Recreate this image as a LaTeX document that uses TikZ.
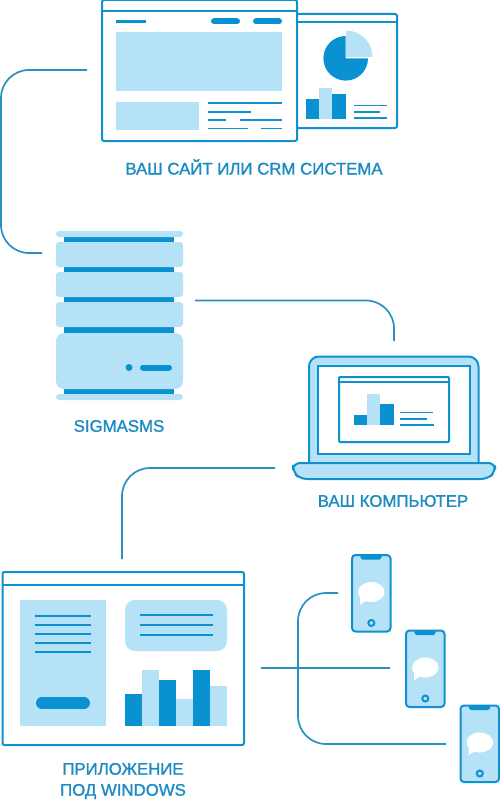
\documentclass[tikz,border=0pt]{standalone}
\usepackage{fontspec}
\setmainfont{Liberation Sans}[FakeBold=1.3]
\definecolor{dk}{HTML}{0A91D1}
\definecolor{lt}{HTML}{B5E2F7}
\definecolor{ln}{HTML}{2A90C2}
\definecolor{tx}{HTML}{1B8BC2}
\tikzset{
  wire/.style={draw=ln,line width=1.7pt,rounded corners=28pt},
  frame/.style={draw=dk!85!ln,line width=2pt,fill=white,rounded corners=2pt},
  thin/.style={draw=dk!85!ln,line width=2pt},
  rule/.style={draw=dk!90!ln,line width=1.8pt},
  unit/.style={fill=lt,rounded corners=3pt},
  caption/.style={text=tx,font=\fontsize{16.8}{21}\selectfont,inner sep=0pt,align=center},
  pill/.style={draw=dk,line cap=round,line width=#1},
}
\newcommand{\phoneat}[2]{%
  \begin{scope}[shift={(#1,#2)}]
    \draw[thin,fill=lt,rounded corners=3.5pt] (0,0) rectangle (38.5,76.5);
    \fill[dk,rounded corners=1.5pt] (8,0) -- (30,0) -- (29,4.5) -- (9,4.5) -- cycle;
    \fill[white] (19.3,37) ellipse (13.3 and 10);
    \fill[white] (8,43) -- (8,50) -- (15,45) -- cycle;
    \draw[draw=dk,line width=2pt,fill=lt] (19.3,68) circle (3);
  \end{scope}}
\begin{document}
\begin{tikzpicture}[x=1pt,y=-1pt]
\useasboundingbox (0,0) rectangle (500,800);
% back window
\draw[frame] (290,14) rectangle (397,128);
\draw[thin] (290,22.5) -- (397,22.5);
\fill[lt] (346,30.5) arc (270:360:26.5) -- (346,57) -- cycle;
\fill[dk] (345.7,36) arc (270:0:22.3) -- (345.7,58.3) -- cycle;
\fill[lt] (319,88) rectangle (332,119);
\fill[dk] (306,99) rectangle (319,119);
\fill[dk] (332,94) rectangle (346,119);
\draw[rule] (354,105.5) -- (387,105.5);
\draw[rule] (354,112) -- (380,112);
\draw[rule] (354,118) -- (387,118);
% front window
\draw[frame] (102,0) rectangle (297,141);
\draw[thin] (102,11) -- (297,11);
\draw[draw=dk,line width=3pt] (116,22) -- (146,22);
\draw[pill=6pt] (214,21.5) -- (237,21.5);
\draw[pill=6pt] (256,21.5) -- (279,21.5);
\fill[lt] (116,32) rectangle (282,91);
\fill[lt] (116,102) rectangle (199,130);
\draw[rule] (208,103) -- (282,103);
\draw[rule] (208,112) -- (251,112);
\draw[rule] (208,120) -- (226,120);
\draw[rule] (240,120) -- (282,120);
\draw[rule] (208,128.5) -- (248,128.5);
\draw[rule] (261,128.5) -- (282,128.5);
\node[caption] (site) at (254,167) {ВАШ САЙТ ИЛИ CRM СИСТЕМА};
% server
\fill[dk] (64,236) rectangle (174,395);
\fill[unit] (56,231) rectangle (183,237);
\fill[unit] (56,242) rectangle (183,267);
\fill[unit] (56,272) rectangle (183,297);
\fill[unit] (56,302) rectangle (183,327);
\fill[lt,rounded corners=8pt] (56,333) rectangle (183,389);
\fill[unit] (56,394) rectangle (183,400);
\fill[dk] (129,367.5) circle (3.5);
\draw[pill=6pt] (143,367.5) -- (169,367.5);
\node[caption] (server) at (119,426) {SIGMASMS};
% laptop
\draw[thin,fill=lt,rounded corners=10pt] (309,464) -- (309,356.5) -- (478.5,356.5) -- (478.5,464);
\draw[thin,fill=white] (318,365.5) rectangle (469.5,454);
\draw[thin,rounded corners=1pt] (339,377) rectangle (449,442);
\draw[thin] (339,382) -- (449,382);
\fill[dk] (354,415) rectangle (367,425);
\fill[lt] (367,394) rectangle (380,425);
\fill[dk] (380,404) rectangle (394,425);
\draw[rule] (400,412.5) -- (433,412.5);
\draw[rule] (400,419) -- (427,419);
\draw[rule] (400,425) -- (434,425);
\draw[thin,fill=lt,rounded corners=6.5pt] (293,463) -- (495,463) -- (495,472) [rounded corners=7pt] -- (488,479) -- (300,479) -- (293,472) -- cycle;
\node[caption] (pc) at (393,501) {ВАШ КОМПЬЮТЕР};
% app window
\draw[frame] (2.5,572) rectangle (244,745);
\draw[thin] (2.5,584.5) -- (244,584.5);
\fill[lt] (20,600) rectangle (106,726);
\foreach \yy in {616,625,634,643,652} \draw[rule] (35,\yy) -- (91,\yy);
\draw[pill=12pt] (42,703) -- (84,703);
\fill[lt,rounded corners=10pt] (125,600) rectangle (227,651);
\foreach \yy in {615,625,635} \draw[rule] (140,\yy) -- (213,\yy);
\fill[lt] (142,670) rectangle (159,726);
\fill[lt] (176,699) rectangle (193,726);
\fill[lt] (210,686) rectangle (227,726);
\fill[dk] (125,694) rectangle (142,726);
\fill[dk] (159,680) rectangle (176,726);
\fill[dk] (193,670) rectangle (210,726);
\node[caption] (app) at (123,781) {ПРИЛОЖЕНИЕ\\ПОД WINDOWS};
% phones
\phoneat{352}{555}
\phoneat{406}{630.5}
\phoneat{460.5}{705.5}
% connectors
\coordinate (a1) at (87,70); \coordinate (a2) at (1,70); \coordinate (a3) at (1,253); \coordinate (a4) at (42,253);
\draw[wire] (a1) -- (a2) -- (a3) -- (a4);
\coordinate (b1) at (195,300.5); \coordinate (b2) at (394,300.5); \coordinate (b3) at (394,341);
\draw[wire] (b1) -- (b2) -- (b3);
\coordinate (c1) at (275,468); \coordinate (c2) at (122,468); \coordinate (c3) at (122,559);
\draw[wire] (c1) -- (c2) -- (c3);
\coordinate (d1) at (261,668); \coordinate (d2) at (390,668);
\draw[wire] (d1) -- (d2);
\coordinate (e1) at (338,593); \coordinate (e2) at (298,593); \coordinate (e3) at (298,744); \coordinate (e4) at (446,744);
\draw[wire] (e1) -- (e2) -- (e3) -- (e4);
\end{tikzpicture}
\end{document}
